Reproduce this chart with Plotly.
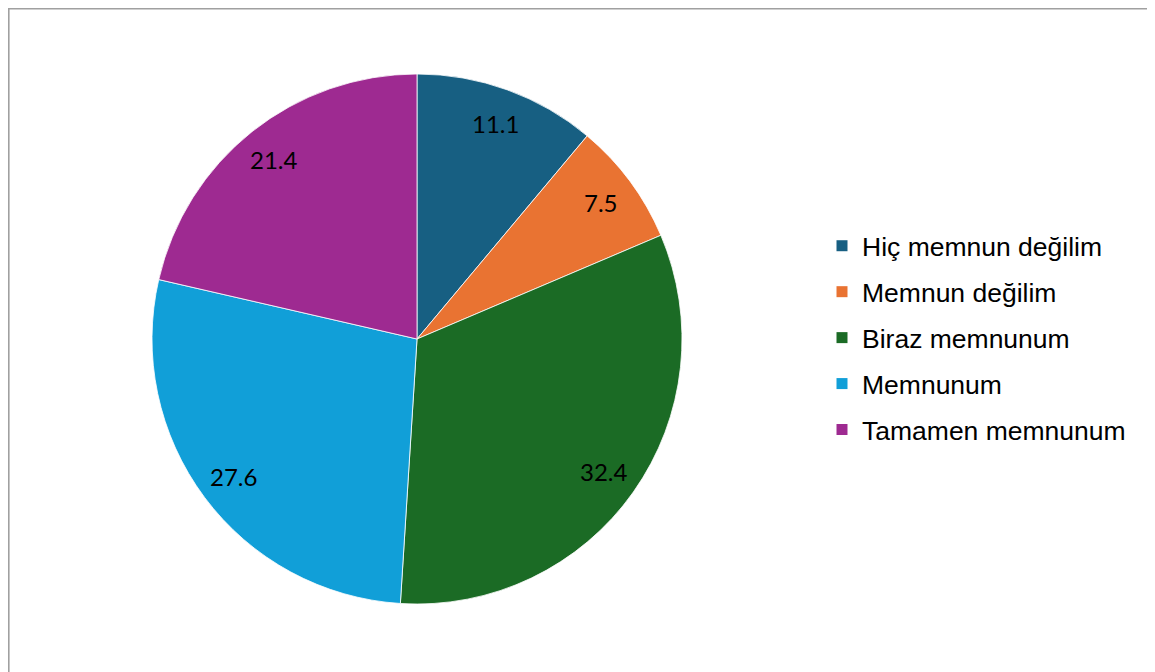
import numpy as np
import plotly.graph_objects as go

# Memnuniyet düzeyi dağılımı (%)
kategoriler = ["Hiç memnun değilim", "Memnun değilim", "Biraz memnunum",
               "Memnunum", "Tamamen memnunum"]
yuzdeler = [11.1, 7.5, 32.4, 27.6, 21.4]
renkler = ["#175F82", "#E97332", "#1B6B25", "#119FD8", "#9E2A91"]

W, H = 1155, 672
cx, cy, r = 409, 331, 265  # pasta merkezi (kağıt pikseli, üstten) ve yarıçap

fig = go.Figure()
fig.add_trace(go.Pie(
    labels=kategoriler,
    values=yuzdeler,
    sort=False,
    direction="clockwise",
    rotation=0,
    marker=dict(colors=renkler, line=dict(color="white", width=0.8)),
    textinfo="none",
    domain=dict(x=[(cx - r) / W, (cx + r) / W],
                y=[(H - cy - r) / H, (H - cy + r) / H]),
    hoverinfo="label+value",
    showlegend=False,
))

# Lejant için kare işaretli boş izler
for i, (ad, renk) in enumerate(zip(kategoriler, renkler)):
    fig.add_trace(go.Scatter(
        x=[None], y=[None], mode="markers", name=ad,
        marker=dict(symbol="square", size=11, color=renk),
        legendgroup=f"g{i}", showlegend=True,
    ))

# Dilim etiketleri: dilimin orta açısında, yarıçapın ~%86'sı
toplam = sum(yuzdeler)
bitis = np.cumsum(yuzdeler)
orta = (bitis - np.array(yuzdeler) / 2) / toplam * 2 * np.pi
annotations = []
for v, a in zip(yuzdeler, orta):
    px = cx + 0.865 * r * np.sin(a)
    py = cy - 0.865 * r * np.cos(a)
    annotations.append(dict(
        x=px / W, y=1 - py / H, xref="paper", yref="paper",
        xanchor="center", yanchor="middle",
        text=f"{v}", showarrow=False,
        font=dict(family="Lato, Open Sans, sans-serif", size=24, color="black"),
    ))

fig.update_layout(
    width=W, height=H,
    margin=dict(l=0, r=0, t=0, b=0),
    paper_bgcolor="white",
    plot_bgcolor="white",
    xaxis=dict(visible=False),
    yaxis=dict(visible=False),
    showlegend=True,
    legend=dict(
        x=814 / W, y=1 - 214 / H, xanchor="left", yanchor="top",
        font=dict(family="Liberation Sans, Arial, sans-serif", size=26.5, color="black"),
        itemwidth=30, tracegroupgap=8.5, traceorder="grouped",
    ),
    annotations=annotations,
    shapes=[dict(type="rect", xref="paper", yref="paper",
                 x0=0.8 / W, x1=1.2, y0=-0.2, y1=1 - 0.8 / H,
                 line=dict(color="#A0A0A0", width=1.6))],
)

fig.write_html("out.html")
